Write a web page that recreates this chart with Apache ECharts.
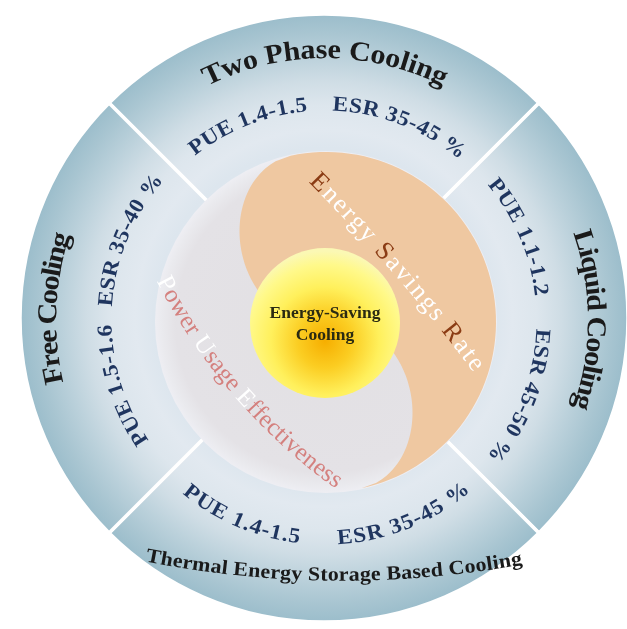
<!DOCTYPE html>
<html>
<head>
<meta charset="utf-8">
<script src="https://cdn.jsdelivr.net/npm/echarts@6/dist/echarts.min.js"></script>
<style>
html,body{margin:0;padding:0;background:#ffffff;}
#main{width:627px;height:629px;}
</style>
</head>
<body>
<div id="main"></div>
<script>
// ---------------- data ----------------
const categories = ['Two Phase Cooling', 'Liquid Cooling', 'Thermal Energy Storage Based Cooling', 'Free Cooling'];
const pueRanges = ['1.4-1.5', '1.1-1.2', '1.4-1.5', '1.5-1.6'];
const esrRanges = ['35-45', '45-50', '35-45', '35-40'];
const sliceValues = [1, 1, 1, 1];
const centerLabel = ['Energy-Saving', 'Cooling'];
const esrTitle = 'Energy Savings Rate';
const pueTitle = 'Power Usage Effectiveness';

// ---------------- layout ----------------
const W = 627, H = 629;
const ringCenter = [324, 318], ringRadius = 304;
const discCenter = [326, 322], discRadius = 171;
const sunCenter = [325, 323], sunRadius = 75;
const textCenter = [325, 320];
const SERIF = '"Liberation Serif", "Times New Roman", serif';
const titleLayout = [
  {mid: -90,   r: 269, dir: 1, len: 251, size: 27.5},
  {mid: 0,     r: 270, dir: 1, len: 182, size: 27.5},
  {chord: [[150, 557], [518, 560]], sag: 17, len: 378, size: 20},
  {mid: 182.5, r: 276, dir: 1, len: 153, size: 27.5}
];
const titleStretch = 1.1;
const metricLayout = [
  {pue: -111.6, esr: -69,   r: 215, dir: 1},
  {pue: -23.1,  esr: 21.1,  r: 217, dir: 1},
  {pue: 113,    esr: 68.2,  r: 219, dir: -1},
  {pue: 162.2,  esr: 202.2, r: 219, dir: 1}
];
const metricFont = 'bold 21.5px ' + SERIF;
const metricSpacing = 0.8;
const metricStretch = 1.08;

const mctx = document.createElement('canvas').getContext('2d');
function charWidths(str, font, k) {
  mctx.font = font;
  return Array.from(str).map(ch => mctx.measureText(ch).width * k);
}

// place text along a circular arc; dir=1 clockwise (tops outward), -1 counter-clockwise (tops inward)
function arcText(str, o) {
  const k = o.stretch || 1;
  const chars = Array.from(str);
  const ws = charWidths(str, o.font, k);
  const n = chars.length;
  const sum = ws.reduce((a, b) => a + b, 0);
  const sp = o.len != null ? (o.len - sum) / (n - 1) : (o.spacing || 0);
  const total = sum + sp * (n - 1);
  const mid = o.mid * Math.PI / 180;
  const els = [];
  let s = -total / 2;
  for (let i = 0; i < n; i++) {
    const sc = s + ws[i] / 2;
    s += ws[i] + sp;
    if (chars[i] === ' ') continue;
    const th = mid + o.dir * sc / o.r;
    const x = o.cx + o.r * Math.cos(th);
    const y = o.cy + o.r * Math.sin(th);
    const read = th + o.dir * Math.PI / 2;
    const fill = typeof o.fill === 'function' ? o.fill(chars[i], i) : o.fill;
    els.push({
      type: 'text', x: x, y: y, rotation: -read, scaleX: k, z: 120, silent: true,
      style: {text: chars[i], font: o.font, fill: fill, align: 'center', verticalAlign: 'middle'}
    });
  }
  return els;
}

// arc defined by a chord p->q and a sagitta h (h>0 bulges to the right of travel)
function chordArc(p, q, h) {
  const dx = q[0] - p[0], dy = q[1] - p[1];
  const c = Math.hypot(dx, dy);
  const u = [dx / c, dy / c];
  let nrm = [-u[1], u[0]];
  let dir = -1;
  if (h < 0) { nrm = [-nrm[0], -nrm[1]]; h = -h; dir = 1; }
  const r = c * c / (8 * h) + h / 2;
  const M = [(p[0] + q[0]) / 2, (p[1] + q[1]) / 2];
  return {
    cx: M[0] - nrm[0] * (r - h), cy: M[1] - nrm[1] * (r - h), r: r,
    mid: Math.atan2(nrm[1], nrm[0]) * 180 / Math.PI, dir: dir
  };
}

function yinYang(cx, cy, R, tiltDeg, a) {
  const t = tiltDeg * Math.PI / 180;
  const e1 = [Math.cos(t), -Math.sin(t)], e2 = [Math.sin(t), Math.cos(t)];
  const toS = (x, y) => [cx + x * e1[0] + y * e2[0], cy + x * e1[1] + y * e2[1]];
  const pts = [];
  const N = 72, b = R / 2;
  for (let i = 0; i <= N; i++) { const f = Math.PI * i / N; pts.push(toS(R * Math.sin(f), -R * Math.cos(f))); }
  for (let i = 1; i <= N; i++) { const y = R - R * i / N; const kk = (y - b) / b; pts.push(toS(a * Math.sqrt(Math.max(0, 1 - kk * kk)), y)); }
  for (let i = 1; i < N; i++) { const y = -R * i / N; const kk = (y + b) / b; pts.push(toS(-a * Math.sqrt(Math.max(0, 1 - kk * kk)), y)); }
  return pts;
}

// ---------------- build ----------------
const ringGradient = {
  type: 'radial', x: ringCenter[0], y: ringCenter[1], r: ringRadius, global: true,
  colorStops: [
    {offset: 0, color: '#e6ecf2'},
    {offset: 0.56, color: '#dde6ee'},
    {offset: 0.62, color: '#e2e9f0'},
    {offset: 0.7, color: '#dde6ed'},
    {offset: 0.78, color: '#cfdde5'},
    {offset: 0.86, color: '#bbd1db'},
    {offset: 0.94, color: '#a8c5d1'},
    {offset: 1, color: '#9bbdcb'}
  ]
};

const graphics = [];
graphics.push({
  type: 'circle', z: 100, silent: true,
  shape: {cx: discCenter[0], cy: discCenter[1], r: discRadius},
  style: {fill: new echarts.graphic.RadialGradient(0.5, 0.5, 0.5, [
    {offset: 0, color: '#e2e0e3'}, {offset: 0.88, color: '#e4e2e6'},
    {offset: 0.96, color: '#eaeaee'}, {offset: 1, color: '#eeeef3'}
  ])}
});
graphics.push({
  type: 'polygon', z: 101, silent: true,
  shape: {points: yinYang(discCenter[0], discCenter[1], discRadius - 1, 12, 68)},
  style: {fill: '#efc8a1'}
});
graphics.push({
  type: 'circle', z: 102, silent: true,
  shape: {cx: sunCenter[0], cy: sunCenter[1], r: sunRadius},
  style: {fill: new echarts.graphic.RadialGradient(0.5, 0.62, 0.6, [
    {offset: 0, color: '#f6ae00'},
    {offset: 0.3, color: '#fbcd22'},
    {offset: 0.6, color: '#fff05c'},
    {offset: 0.85, color: '#fff98a'},
    {offset: 1, color: '#fbf8b4'}
  ])}
});
graphics.push({
  type: 'text', z: 121, silent: true, x: sunCenter[0], y: sunCenter[1] + 1,
  style: {text: centerLabel.join('\n'), font: 'bold 17.5px ' + SERIF, lineHeight: 22,
          fill: '#2a2a12', align: 'center', verticalAlign: 'middle'}
});

// outer titles
categories.forEach((name, i) => {
  const L = titleLayout[i];
  const geo = L.chord ? chordArc(L.chord[0], L.chord[1], L.sag)
                      : {cx: textCenter[0], cy: textCenter[1], r: L.r, mid: L.mid, dir: L.dir};
  graphics.push(...arcText(name, Object.assign({}, geo, {
    len: L.len, stretch: titleStretch, font: 'bold ' + L.size + 'px ' + SERIF, fill: '#1a1a1a'
  })));
});
// PUE / ESR metrics
categories.forEach((name, i) => {
  const L = metricLayout[i];
  graphics.push(...arcText('PUE ' + pueRanges[i], {
    cx: textCenter[0], cy: textCenter[1], r: L.r, mid: L.pue, dir: L.dir,
    spacing: metricSpacing, stretch: metricStretch, font: metricFont, fill: '#1f355f'
  }));
  graphics.push(...arcText('ESR ' + esrRanges[i] + ' %', {
    cx: textCenter[0], cy: textCenter[1], r: L.r, mid: L.esr, dir: L.dir,
    spacing: metricSpacing, stretch: metricStretch, font: metricFont, fill: '#1f355f'
  }));
});
// inner titles
const esrArc = chordArc([318, 182], [475, 363], -4);
graphics.push(...arcText(esrTitle, Object.assign({}, esrArc, {
  len: 253, font: '26px ' + SERIF,
  fill: ch => (ch >= 'A' && ch <= 'Z') ? '#8b3c14' : '#ffffff'
})));
const pueArc = chordArc([165, 283], [335, 480], 15);
graphics.push(...arcText(pueTitle, Object.assign({}, pueArc, {
  len: 274, font: '25px ' + SERIF,
  fill: ch => (ch >= 'A' && ch <= 'Z') ? '#ffffff' : '#d4807e'
})));

const chart = echarts.init(document.getElementById('main'), null, {renderer: 'canvas', width: W, height: H});
chart.setOption({
  animation: false,
  backgroundColor: '#ffffff',
  series: [{
    type: 'pie',
    center: ringCenter,
    radius: [0, ringRadius],
    startAngle: 135,
    clockwise: true,
    silent: true,
    label: {show: false},
    labelLine: {show: false},
    emphasis: {disabled: true},
    itemStyle: {color: ringGradient, borderColor: '#ffffff', borderWidth: 3.5},
    data: categories.map((c, i) => ({name: c, value: sliceValues[i]}))
  }],
  graphic: {elements: graphics}
});
</script>
</body>
</html>
